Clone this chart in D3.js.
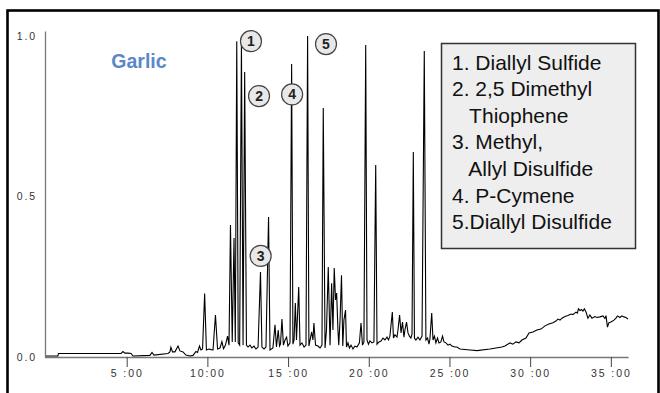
<!DOCTYPE html>
<html>
<head>
<meta charset="utf-8">
<script src="https://cdn.jsdelivr.net/npm/d3@7/dist/d3.min.js"></script>
<style>
  html, body { margin: 0; padding: 0; background: #fff; }
  svg { display: block; }
</style>
</head>
<body>
<svg id="chart" width="660" height="393"></svg>
<script>
// ---- data ----
const title = "Garlic";
const timeMin = [0.00,0.74,0.77,4.65,4.77,4.89,5.08,5.27,5.39,6.44,6.57,6.69,7.56,7.68,7.74,7.84,7.99,8.18,8.30,8.49,8.67,8.92,9.11,9.29,9.39,9.51,9.60,9.70,9.83,9.94,10.10,10.22,10.35,10.50,10.63,10.78,10.90,11.00,11.12,11.25,11.34,11.43,11.54,11.65,11.73,11.82,11.91,12.00,12.11,12.21,12.31,12.42,12.52,12.64,12.76,12.89,13.01,13.14,13.29,13.38,13.51,13.63,13.79,13.88,14.06,14.19,14.28,14.39,14.47,14.53,14.62,14.71,14.81,14.91,14.99,15.12,15.22,15.30,15.37,15.45,15.52,15.66,15.74,15.86,15.99,16.11,16.21,16.29,16.46,16.54,16.60,16.70,16.85,16.98,17.10,17.18,17.29,17.38,17.49,17.60,17.70,17.78,17.86,17.94,18.01,18.09,18.14,18.22,18.31,18.39,18.46,18.56,18.62,18.71,18.80,18.90,19.02,19.14,19.27,19.42,19.52,19.61,19.70,19.81,19.89,19.98,20.07,20.20,20.32,20.43,20.51,20.63,20.76,20.88,21.00,21.13,21.22,21.31,21.46,21.53,21.62,21.75,21.81,21.91,22.00,22.09,22.18,22.24,22.34,22.43,22.52,22.61,22.68,22.76,22.83,22.92,23.05,23.17,23.30,23.44,23.54,23.64,23.73,23.79,23.90,23.98,24.07,24.16,24.26,24.35,24.47,24.57,24.66,24.78,24.91,25.03,25.15,25.34,25.46,25.65,26.27,26.70,27.51,28.25,28.44,28.75,28.93,29.12,29.31,29.49,29.74,29.93,30.17,30.42,30.67,30.92,31.16,31.41,31.60,31.72,31.85,31.97,32.16,32.34,32.53,32.65,32.84,32.93,32.99,33.09,33.18,33.27,33.36,33.46,33.58,33.70,33.83,34.01,34.14,34.32,34.51,34.63,34.70,34.79,34.88,35.01,35.19,35.32,35.41,35.56,35.69,35.81,35.94,36.06];
const intensity = [0.003,0.003,0.011,0.011,0.017,0.012,0.012,0.011,0.003,0.005,0.014,0.006,0.011,0.016,0.030,0.016,0.016,0.034,0.019,0.016,0.006,0.003,0.005,0.017,0.014,0.034,0.022,0.025,0.198,0.022,0.025,0.023,0.022,0.131,0.025,0.028,0.048,0.026,0.037,0.065,0.037,0.411,0.047,0.371,0.047,0.984,0.044,0.037,0.978,0.037,0.888,0.037,0.031,0.037,0.028,0.034,0.025,0.031,0.265,0.031,0.025,0.031,0.436,0.022,0.028,0.100,0.031,0.084,0.034,0.040,0.118,0.037,0.053,0.062,0.034,0.044,0.913,0.040,0.053,0.168,0.053,0.218,0.037,0.044,0.031,0.037,1.000,0.034,0.078,0.053,0.106,0.037,0.034,0.028,0.037,0.776,0.028,0.084,0.280,0.037,0.230,0.084,0.277,0.178,0.199,0.084,0.037,0.115,0.255,0.034,0.115,0.146,0.031,0.044,0.028,0.037,0.025,0.034,0.031,0.044,0.106,0.037,0.047,0.972,0.053,0.040,0.050,0.044,0.047,0.598,0.040,0.047,0.050,0.059,0.053,0.062,0.053,0.065,0.140,0.059,0.069,0.062,0.084,0.131,0.075,0.109,0.062,0.084,0.109,0.075,0.065,0.059,0.072,0.639,0.059,0.053,0.062,0.053,0.065,0.953,0.053,0.059,0.040,0.056,0.137,0.053,0.065,0.044,0.059,0.044,0.047,0.065,0.047,0.044,0.037,0.040,0.034,0.031,0.031,0.025,0.022,0.020,0.025,0.031,0.034,0.044,0.040,0.047,0.044,0.053,0.059,0.075,0.078,0.084,0.087,0.097,0.103,0.107,0.112,0.118,0.115,0.121,0.126,0.129,0.134,0.132,0.140,0.137,0.150,0.145,0.148,0.143,0.150,0.140,0.121,0.131,0.121,0.126,0.123,0.125,0.128,0.120,0.129,0.093,0.107,0.109,0.115,0.121,0.128,0.123,0.128,0.125,0.123,0.118];
const xTicks = [5, 10, 15, 20, 25, 30, 35];
const xTickLabels = ["5 :00", "10:00", "15 :00", "20 :00", "25 :00", "30 :00", "35 :00"];
const yTicks = [0, 0.5, 1.0];
const yTickLabels = ["0.0", "0.5", "1.0"];
const peakIds = ["1", "2", "3", "4", "5"];
const peakTimes = [12.7, 13.2, 13.3, 15.25, 17.35];
const peakLabelLevels = [0.984, 0.813, 0.315, 0.818, 0.975];
const legendLines = ["1. Diallyl Sulfide", "2. 2,5 Dimethyl", "   Thiophene", "3. Methyl,", "   Allyl Disulfide", "4. P-Cymene", "5.Diallyl Disulfide"];

// ---- drawing ----
const svg = d3.select("#chart");
const x = d3.scaleLinear().domain([0, 36.1]).range([46, 628.6]);
const y = d3.scaleLinear().domain([0, 1.0156]).range([357, 31]);

// outer frame
svg.append("rect").attr("x", 7.5).attr("y", 10.5).attr("width", 651).attr("height", 420)
  .attr("fill", "none").attr("stroke", "#000").attr("stroke-width", 2.6);

// x axis
const xAxis = d3.axisBottom(x).tickValues(xTicks)
  .tickFormat((d, i) => xTickLabels[i]).tickSize(10).tickSizeOuter(0).tickPadding(3);
const gx = svg.append("g").attr("transform", "translate(0,357)").call(xAxis);
gx.select(".domain").attr("stroke", "#777").attr("stroke-width", 1.3).attr("d", "M45,0.5H628.6");
gx.selectAll(".tick line").attr("stroke", "#444").attr("stroke-width", 1);
gx.selectAll(".tick text").attr("font-family", "Liberation Sans, Arial, sans-serif")
  .attr("font-size", 10.5).attr("fill", "#333").style("letter-spacing", "1.9px");

// y axis
const yAxis = d3.axisLeft(y).tickValues(yTicks)
  .tickFormat((d, i) => yTickLabels[i]).tickSize(0).tickPadding(8);
const gy = svg.append("g").attr("transform", "translate(45,0)").call(yAxis);
gy.select(".domain").attr("stroke", "#777").attr("stroke-width", 1.3);
gy.selectAll(".tick text").attr("font-family", "Liberation Sans, Arial, sans-serif")
  .attr("font-size", 10.5).attr("fill", "#333").style("letter-spacing", "1.9px")
  .attr("dy", "0.3em");

// chromatogram trace
const pts = timeMin.map((t, i) => [t, intensity[i]]);
const line = d3.line().x(d => x(d[0])).y(d => y(d[1]));
svg.append("path").datum(pts).attr("d", line)
  .attr("fill", "none").attr("stroke", "#000").attr("stroke-width", 1.1)
  .attr("stroke-linejoin", "miter");

// title
svg.append("text").attr("x", 139).attr("y", 68).attr("text-anchor", "middle")
  .attr("font-family", "Liberation Sans, Arial, sans-serif").attr("font-weight", "bold")
  .attr("font-size", 19.5).attr("fill", "#5b87c8").text(title);

// peak labels
const pk = svg.append("g");
peakIds.forEach((id, i) => {
  const cx = x(peakTimes[i]), cy = y(peakLabelLevels[i]);
  pk.append("circle").attr("cx", cx).attr("cy", cy).attr("r", 10.5)
    .attr("fill", "#e8e8e8").attr("stroke", "#444").attr("stroke-width", 1.2);
  pk.append("text").attr("x", cx).attr("y", cy).attr("dy", "0.36em").attr("text-anchor", "middle")
    .attr("font-family", "Liberation Sans, Arial, sans-serif").attr("font-weight", "bold")
    .attr("font-size", 14).attr("fill", "#222").text(id);
});

// legend box
const lg = svg.append("g");
lg.append("rect").attr("x", 441.5).attr("y", 43.5).attr("width", 194).attr("height", 205)
  .attr("fill", "#eeeeee").attr("stroke", "#333").attr("stroke-width", 1.5);
lg.selectAll("text").data(legendLines).join("text")
  .attr("x", 452).attr("y", (d, i) => 69.5 + i * 26.6)
  .attr("font-family", "Liberation Sans, Arial, sans-serif").attr("font-size", 21)
  .attr("fill", "#111").style("white-space", "pre").attr("xml:space", "preserve")
  .text(d => d);
</script>
</body>
</html>
